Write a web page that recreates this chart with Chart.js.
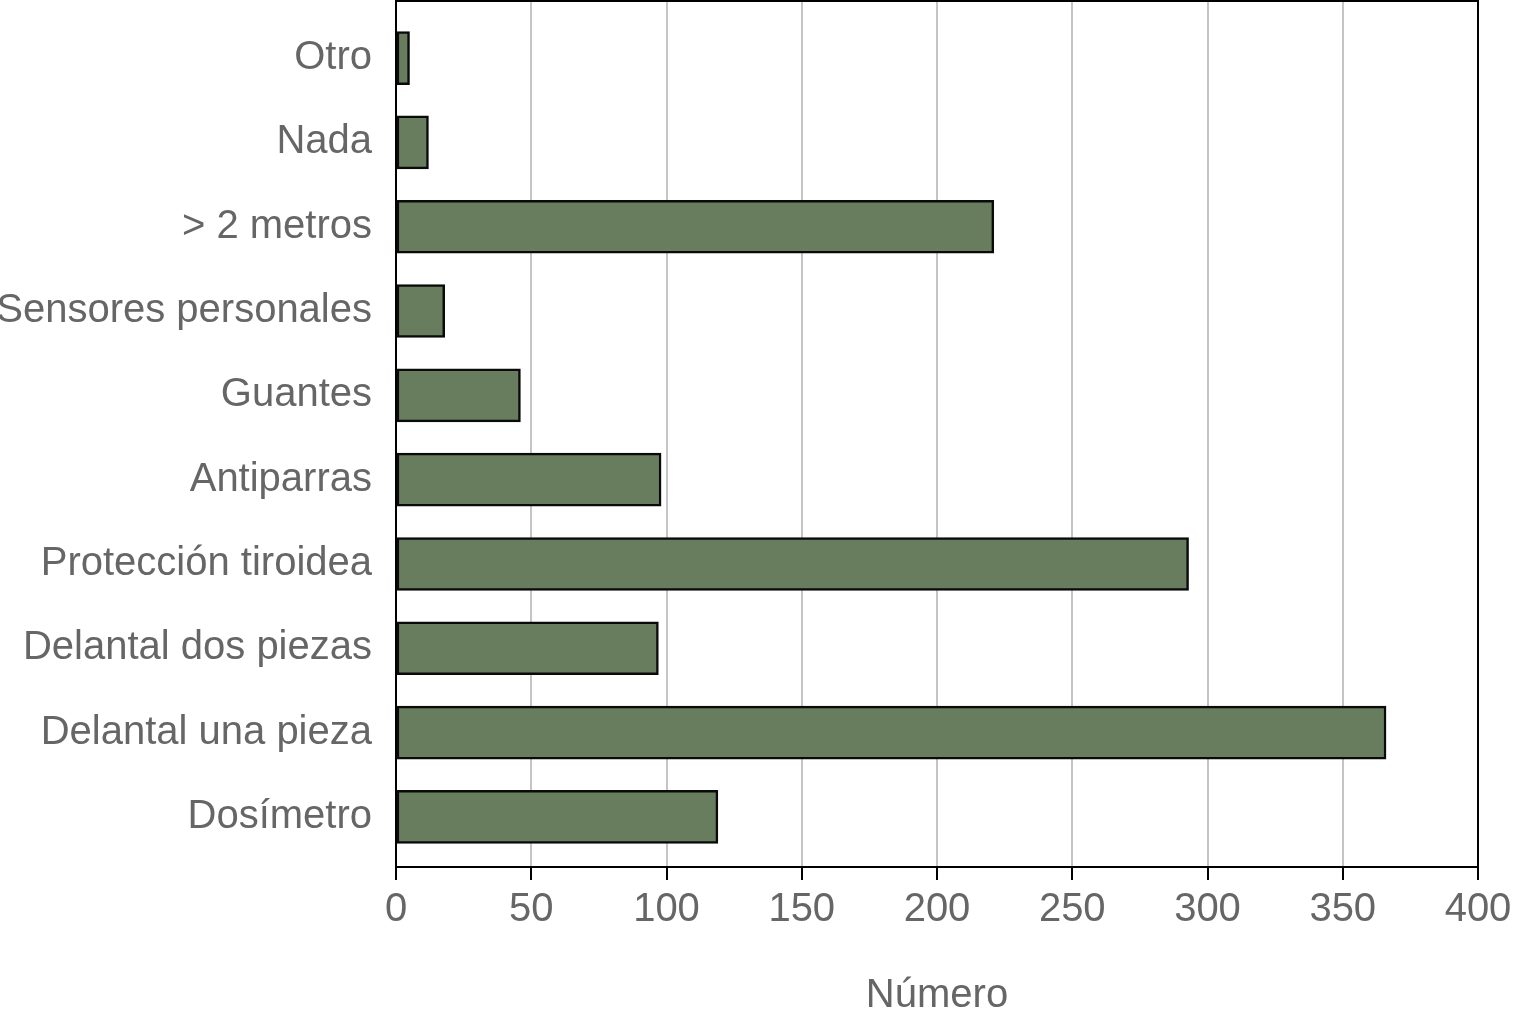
<!DOCTYPE html>
<html>
<head>
<meta charset="utf-8">
<script src="https://cdn.jsdelivr.net/npm/chart.js@4.4.0/dist/chart.umd.min.js"></script>
<style>
  html, body { margin: 0; padding: 0; background: #fff; }
  #wrap { width: 1538px; height: 1024px; }
</style>
</head>
<body>
<div id="wrap"><canvas id="grafico"></canvas></div>
<script>
// categorias de arriba hacia abajo
const categorias = ['Otro', 'Nada', '> 2 metros', 'Sensores personales', 'Guantes', 'Antiparras',
  'Protección tiroidea', 'Delantal dos piezas', 'Delantal una pieza', 'Dosímetro'];
const valores = [5, 12, 221, 18, 46, 98, 293, 97, 366, 119];
const ticksX = [0, 50, 100, 150, 200, 250, 300, 350, 400];
const tituloX = 'Número';

const fuente = "'Liberation Sans', Arial, sans-serif";
const colorTexto = '#666666';

// marco negro arriba y a la derecha
const marco = {
  id: 'marco',
  afterDraw(chart) {
    const { ctx, chartArea } = chart;
    ctx.save();
    ctx.strokeStyle = '#000';
    ctx.lineWidth = 2;
    ctx.beginPath();
    ctx.moveTo(chartArea.left, chartArea.top);
    ctx.lineTo(chartArea.right, chartArea.top);
    ctx.lineTo(chartArea.right, chartArea.bottom);
    ctx.stroke();
    ctx.restore();
  }
};

new Chart(document.getElementById('grafico'), {
  type: 'bar',
  data: {
    datasets: [{
      data: valores.map((v, i) => ({ x: v, y: i })),
      backgroundColor: '#687d5e',
      borderColor: '#0a0a0a',
      borderWidth: 2.5,
      borderSkipped: false,
      barThickness: 53
    }]
  },
  options: {
    indexAxis: 'y',
    responsive: true,
    maintainAspectRatio: false,
    animation: false,
    layout: { padding: { top: 1, right: 60, left: 0, bottom: 0 } },
    plugins: { legend: { display: false }, tooltip: { enabled: false } },
    scales: {
      x: {
        type: 'linear',
        min: 0,
        max: 400,
        afterBuildTicks: s => { s.ticks = ticksX.map(v => ({ value: v })); },
        afterFit: s => { s.height = 157; },
        grid: { color: '#c4c4c4', lineWidth: 2, drawTicks: true, tickLength: 13, tickColor: '#000', tickWidth: 2 },
        border: { display: true, color: '#000', width: 2 },
        ticks: { color: colorTexto, font: { family: fuente, size: 40 }, padding: 6, maxRotation: 0 },
        title: { display: true, text: tituloX, color: colorTexto, font: { family: fuente, size: 40 }, padding: { top: 26 } }
      },
      y: {
        type: 'linear',
        reverse: true,
        offset: false,
        min: -0.677,
        max: 9.594,
        afterBuildTicks: s => { s.ticks = categorias.map((c, i) => ({ value: i })); },
        afterFit: s => { s.width = 396; s.paddingTop = 0; s.paddingBottom = 0; },
        grid: { display: false, drawTicks: false },
        border: { display: true, color: '#000', width: 2 },
        ticks: {
          color: colorTexto,
          font: { family: fuente, size: 40 },
          padding: 24,
          callback: v => categorias[v]
        }
      }
    }
  },
  plugins: [marco]
});
</script>
</body>
</html>
